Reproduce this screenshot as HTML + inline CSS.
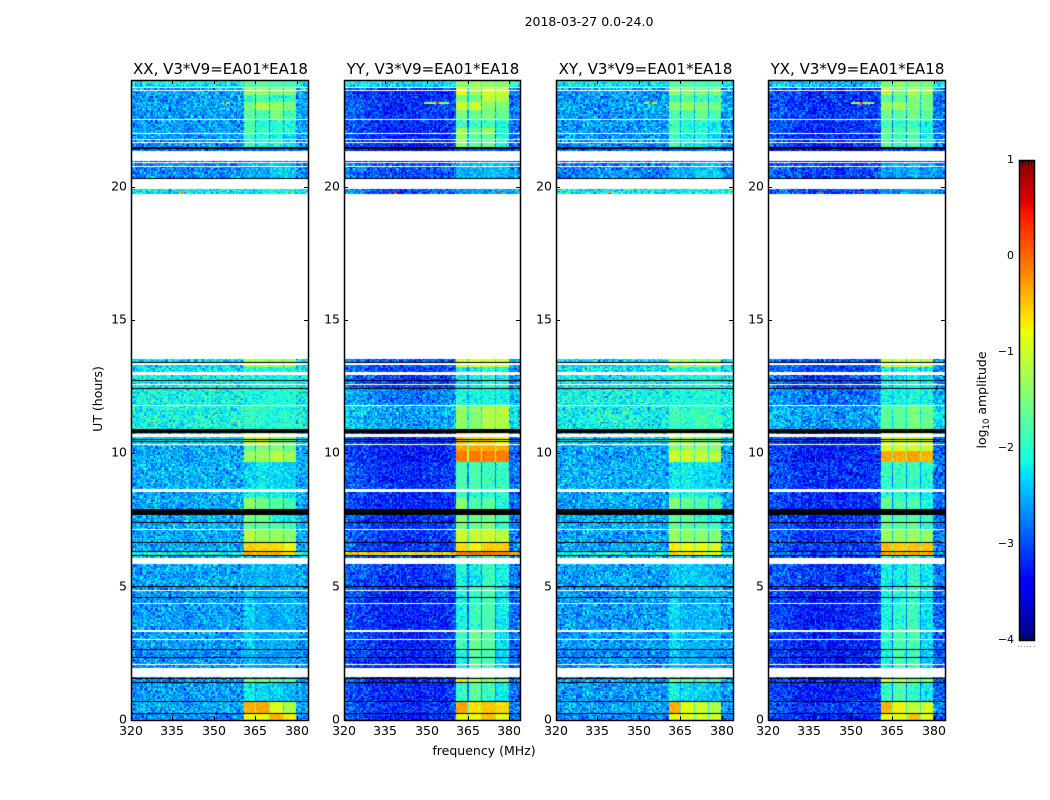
<!DOCTYPE html>
<html lang="en">
<head>
<meta charset="utf-8">
<title>2018-03-27 0.0-24.0</title>
<style>
html,body{margin:0;padding:0;background:#fff;}
#figure{position:relative;width:1050px;height:800px;overflow:hidden;background:#fff;font-family:"DejaVu Sans","Liberation Sans",sans-serif;}
canvas{position:absolute;display:block;}
svg{position:absolute;left:0;top:0;}
text{font-family:"DejaVu Sans","Liberation Sans",sans-serif;fill:#000;}
</style>
</head>
<body>
<div id="figure">
<svg id="overlay" width="1050" height="800" viewBox="0 0 1050 800">
  <text x="589" y="26" font-size="12.5" text-anchor="middle">2018-03-27 0.0-24.0</text>
  <text x="484" y="755" font-size="12.5" text-anchor="middle">frequency (MHz)</text>
  <text transform="translate(102,399) rotate(-90)" font-size="12.5" text-anchor="middle">UT (hours)</text>
  <text transform="translate(986,400) rotate(-90)" font-size="12.5" text-anchor="middle">log<tspan font-size="8.5" dy="3">10</tspan><tspan dy="-3"> amplitude</tspan></text>
</svg>
</div>
<script>
// ---- chart data ----
const panelTitles = ["XX, V3*V9=EA01*EA18", "YY, V3*V9=EA01*EA18", "XY, V3*V9=EA01*EA18", "YX, V3*V9=EA01*EA18"];
const xTicks = [320, 335, 350, 365, 380];
const yTicks = [0, 5, 10, 15, 20];
const colorTicks = [1, 0, -1, -2, -3, -4];

// Upper edge (UT hours) of each time band used by the level tables
const bandTops = [24, 23.74, 23.44, 23.21, 22.88, 22.54, 22.2, 21.98, 21.45, 20.96, 20.33, 19.73, 13.54, 13.27, 12.45, 11.81, 10.91, 10.31, 10.09, 9.68, 8.55, 8.36, 7.92, 7.43, 7.13, 6.67, 6.34, 6.16, 5.02, 3.38, 2.63, 1.56, 1.43, 0.68, 0.23];

// Sub-band frequency limits (MHz)
const spwStart = [360.8, 365.7, 370.5, 375.6];
const spwEnd = [365, 369.9, 374.9, 379.9];

// log10 amplitude per time band: [background, sub-band 1, 2, 3, 4]
const levelsXX = [
[-2.25,-1.7,-1.7,-1.8,-1.8],[-2.7,-1.35,-1.35,-1.45,-1.45],[-2.7,-1.9,-1.8,-2.0,-2.0],[-2.65,-1.5,-1.2,-1.35,-1.5],[-2.7,-1.7,-1.8,-1.5,-1.85],[-2.7,-1.85,-2.05,-2.0,-2.1],[-2.7,-1.7,-1.9,-1.9,-2.05],
[-2.75,-1.9,-2.1,-2.1,-2.3],[-3.0,-2.9,-2.9,-2.9,-2.9],[-2.8,-2.5,-2.55,-2.35,-2.4],
[-2.3,-2.3,-2.3,-2.3,-2.3],[-2.5,-2.5,-2.5,-2.5,-2.5],[-2.4,-1.2,-1.2,-1.3,-1.3],[-2.3,-2.1,-2.1,-2.1,-2.1],
[-2.2,-2.1,-2.1,-2.15,-2.15],[-2.2,-1.9,-2.0,-2.05,-2.15],[-2.4,-1.15,-1.0,-1.4,-1.5],[-2.65,-1.7,-1.5,-1.5,-1.6],
[-2.65,-1.3,-1.3,-1.1,-1.3],[-2.6,-2.3,-2.2,-2.3,-2.35],[-2.65,-2.0,-2.1,-2.1,-2.3],[-2.65,-1.35,-1.55,-1.75,-1.9],
[-2.6,-1.5,-1.55,-2.1,-2.2],[-2.6,-1.6,-1.7,-1.8,-1.9],[-2.65,-1.15,-1.3,-1.3,-1.4],[-2.65,-0.5,-0.6,-0.6,-0.8],
[-2.2,-0.35,-0.35,-0.4,-0.6],[-2.65,-2.5,-2.45,-2.5,-2.55],[-2.7,-2.35,-2.5,-2.55,-2.5],[-2.7,-2.35,-2.55,-2.5,-2.55],
[-2.75,-2.45,-2.6,-2.6,-2.65],[-2.7,-1.4,-1.5,-1.7,-1.7],[-2.7,-2.2,-2.3,-2.35,-2.5],[-2.65,-0.35,-0.35,-0.9,-1.2],[-2.8,-0.8,-0.8,-0.4,-0.7]];
const levelsYY = [
[-2.25,-1.4,-1.3,-1.4,-1.4],[-3.1,-0.85,-1.25,-0.95,-1.0],[-3.1,-1.5,-1.6,-1.1,-1.2],[-3.1,-1.05,-1.0,-1.4,-1.5],[-3.05,-1.5,-1.6,-1.5,-1.65],[-3.1,-1.85,-1.95,-1.85,-2.1],[-3.15,-1.2,-1.6,-1.3,-2.0],
[-3.15,-1.35,-1.7,-1.6,-2.0],[-3.4,-3.0,-3.0,-3.0,-3.0],[-2.9,-2.5,-2.5,-2.4,-2.45],
[-2.9,-2.6,-2.6,-2.6,-2.6],[-2.9,-2.9,-2.9,-2.9,-2.9],[-2.9,-0.9,-0.9,-0.9,-1.0],[-3.0,-2.2,-2.2,-2.0,-2.1],
[-2.7,-2.1,-2.1,-2.1,-2.1],[-2.5,-1.35,-1.45,-1.15,-1.15],[-3.1,-0.45,-0.6,-0.6,-0.8],[-3.2,-0.35,-0.35,-0.35,-0.35],
[-3.2,-0.1,-0.1,-0.1,-0.1],[-3.1,-1.8,-1.8,-1.9,-1.9],[-3.15,-1.9,-2.0,-2.0,-2.0],[-3.15,-1.4,-1.8,-1.7,-2.0],
[-3.1,-1.4,-1.6,-1.5,-1.8],[-3.1,-1.5,-1.6,-1.5,-2.0],[-3.05,-1.0,-1.05,-1.0,-1.1],[-3.05,-0.6,-0.75,-0.55,-0.55],
[-0.65,-0.15,-0.05,-0.05,-0.1],[-3.05,-2.1,-2.2,-1.9,-2.1],[-3.15,-2.1,-1.9,-1.8,-2.2],[-3.15,-1.9,-1.6,-1.7,-2.2],
[-3.15,-2.1,-1.7,-1.8,-2.3],[-3.1,-0.6,-1.2,-1.4,-1.4],[-3.15,-1.9,-1.7,-1.9,-2.2],[-3.05,-0.3,-0.65,-0.5,-0.6],[-3.2,-0.85,-0.8,-0.45,-0.85]];
const levelsXY = [
[-2.25,-1.7,-1.7,-1.8,-1.8],[-2.7,-1.4,-1.45,-1.5,-1.5],[-2.7,-1.85,-1.75,-1.9,-1.95],[-2.65,-1.4,-1.3,-1.45,-1.55],[-2.7,-1.75,-1.8,-1.6,-1.8],[-2.7,-1.9,-2.05,-2.0,-2.15],[-2.7,-1.75,-1.95,-1.9,-2.1],
[-2.75,-1.9,-2.1,-2.1,-2.3],[-3.0,-2.9,-2.9,-2.9,-2.9],[-2.8,-2.5,-2.55,-2.35,-2.4],
[-2.3,-2.3,-2.3,-2.3,-2.3],[-2.5,-2.5,-2.5,-2.5,-2.5],[-2.4,-1.2,-1.2,-1.3,-1.3],[-2.3,-2.1,-2.1,-2.1,-2.1],
[-2.2,-2.1,-2.1,-2.15,-2.15],[-2.2,-1.85,-1.95,-1.85,-1.95],[-2.4,-1.3,-1.2,-1.4,-1.5],[-2.65,-1.4,-1.3,-1.3,-1.4],
[-2.65,-1.0,-1.0,-1.05,-1.1],[-2.6,-2.2,-2.15,-2.25,-2.3],[-2.65,-2.0,-2.1,-2.1,-2.3],[-2.65,-1.45,-1.6,-1.75,-1.9],
[-2.6,-1.6,-1.65,-1.9,-2.0],[-2.6,-1.6,-1.7,-1.8,-1.9],[-2.65,-1.3,-1.35,-1.35,-1.45],[-2.65,-0.7,-0.8,-0.85,-0.95],
[-2.2,-0.55,-0.65,-0.75,-0.85],[-2.65,-2.4,-2.35,-2.4,-2.5],[-2.7,-2.3,-2.45,-2.45,-2.45],[-2.7,-2.3,-2.45,-2.45,-2.5],
[-2.75,-2.4,-2.5,-2.55,-2.6],[-2.7,-1.5,-1.6,-1.7,-1.7],[-2.7,-2.15,-2.25,-2.3,-2.45],[-2.65,-0.35,-0.85,-1.0,-1.2],[-2.8,-0.9,-0.9,-0.95,-1.0]];
const levelsYX = [
[-2.4,-1.5,-1.4,-1.5,-1.5],[-3.1,-1.1,-1.45,-1.25,-1.3],[-3.1,-1.7,-1.7,-1.5,-1.6],[-3.1,-1.3,-1.25,-1.45,-1.55],[-3.05,-1.6,-1.7,-1.55,-1.7],[-3.1,-1.9,-2.0,-1.9,-2.1],[-3.15,-1.6,-1.8,-1.7,-2.05],
[-3.15,-1.7,-1.9,-1.8,-2.1],[-3.4,-3.1,-3.1,-3.1,-3.1],[-3.0,-2.6,-2.6,-2.5,-2.55],
[-2.95,-2.7,-2.7,-2.7,-2.7],[-2.95,-2.95,-2.95,-2.95,-2.95],[-2.9,-1.0,-1.0,-1.0,-1.1],[-3.0,-2.2,-2.2,-2.1,-2.2],
[-2.75,-2.1,-2.1,-2.1,-2.1],[-2.55,-1.7,-1.7,-1.5,-1.6],[-3.1,-0.95,-0.95,-0.95,-1.0],[-3.2,-0.95,-0.95,-0.95,-1.0],
[-3.2,-0.35,-0.35,-0.3,-0.4],[-3.1,-1.9,-1.9,-1.95,-2.0],[-3.15,-2.0,-2.05,-2.05,-2.1],[-3.15,-1.6,-1.85,-1.8,-2.05],
[-3.1,-1.6,-1.7,-1.7,-1.9],[-3.1,-1.6,-1.7,-1.6,-2.0],[-3.05,-1.3,-1.35,-1.3,-1.35],[-3.05,-0.45,-0.55,-0.5,-0.5],
[-2.9,-0.3,-0.3,-0.3,-0.35],[-3.05,-2.15,-2.2,-2.0,-2.15],[-3.2,-2.1,-2.0,-1.9,-2.25],[-3.2,-2.0,-1.8,-1.85,-2.25],
[-3.2,-2.1,-1.85,-1.9,-2.3],[-3.1,-0.9,-1.2,-1.4,-1.4],[-3.2,-1.95,-1.8,-1.95,-2.2],[-3.05,-0.4,-0.75,-1.1,-0.95],[-3.2,-0.85,-0.85,-0.5,-0.9]];

// Background offset per 4 MHz frequency bin from 320 to 384 MHz
const profileXX = [0.05,0.1,0.1,0.1,0.1,0.1,0.1,0.1,0.1,0.1,0.1,0.1,0.15,0.15,0.15,0.1];
const profileYY = [0.15,0.1,0,-0.05,-0.1,-0.1,-0.1,-0.05,-0.05,0,0.15,0.3,0.35,0.35,0.35,0.3];
const profileXY = [0.05,0.1,0.1,0.1,0.1,0.1,0.1,0.1,0.1,0.1,0.1,0.1,0.15,0.15,0.15,0.1];
const profileYX = [0.15,0.1,0,-0.05,-0.1,-0.1,-0.1,-0.05,-0.05,0,0.15,0.3,0.35,0.35,0.35,0.3];

// Flagged (blank) and zero-valued (black) time ranges: [upper hour, lower hour]
const flaggedWhite = [[23.74,23.69],[23.62,23.6],[22.55,22.51],[22.0,21.96],[21.78,21.74],[21.68,21.64],[21.34,20.96],[20.93,20.9],[20.76,20.73],[20.3,19.9],[19.73,13.54],[13.39,13.31],[13.04,12.95],[12.6,12.55],[11.82,11.8],[10.71,10.61],[10.36,10.3],[8.67,8.55],[7.15,7.12],[6.07,6.05],[6.03,5.85],[4.88,4.84],[4.38,4.35],[3.38,3.31],[3.03,3.0],[2.1,2.06],[1.94,1.6]];
const flaggedBlack = [[21.47,21.43],[20.33,20.3],[13.44,13.4],[12.75,12.72],[12.46,12.43],[10.93,10.78],[10.54,10.5],[10.47,10.44],[7.92,7.69],[7.43,7.4],[6.69,6.66],[6.35,6.32],[6.17,6.14],[5.01,4.98],[4.63,4.6],[2.67,2.64],[2.37,2.34],[1.59,1.56],[1.44,1.41],[0.73,0.7],[0.27,0.24]];

// Narrow interference: [panel index, hour, start MHz, end MHz, log10 amplitude]
const interference = [
[0,23.17,352.9,355.8,-1.6],[0,23.17,353.5,354.5,0.3],[1,23.17,349,358,-1.3],[1,23.17,353.4,354.4,0.3],
[2,23.17,352,356.5,-1.4],[2,23.17,353.8,354.8,0.2],[3,23.17,350,358.5,-1.3],[3,23.17,353.4,354.4,0.2],
[0,19.82,337.6,339.2,-0.2],[0,19.82,376.4,377.3,-0.6],[1,19.82,338.2,339.2,0.4],[1,19.82,376.3,377.3,0.2],
[2,19.82,338.5,339.5,-0.4],[3,19.82,338.6,339.6,0.2],[3,19.82,352.8,353.8,0.2]];

// Decorative grain amplitude table; the cell levels above carry the chart's values
const grain = [0.3,-0.8,0.1,0.6,-0.3,-1,0.5,0.2,-0.6,0.9,-0.1,0.4,-0.9,0.7,0,-0.4,0.8,-0.7,0.2,-0.2,1,-0.5,0.3,-1,0.6,0.1,-0.3,0.4,-0.8,0.5,-0.1,0.9,-0.6,0.2,-0.4,0.7,-0.9,0,0.3,-0.2,0.8,-0.7,0.1,0.5,-0.5,0.6,-1,0.4,-0.3,0.2,0.9,-0.6,0,0.7,-0.8,0.3,-0.1,0.5,-0.4,0.1,-0.7];

// ---- axes ----
const panelLeft = [131, 344, 556, 768];
const panelWidth = [177, 176, 177, 177];
const plotTop = 80, plotBottom = 720;
const freqMin = 320, freqMax = 384, hourMin = 0, hourMax = 24;
const colorMin = -4, colorMax = 1;
const panelLevels = [levelsXX, levelsYY, levelsXY, levelsYX];
const panelProfiles = [profileXX, profileYY, profileXY, profileYX];
const panelKeys = ["xx", "yy", "xy", "yx"];

function yOf(hour) {
  return plotBottom - (hour - hourMin) * (plotBottom - plotTop) / (hourMax - hourMin);
}
function xOf(freq, width) {
  return (freq - freqMin) * width / (freqMax - freqMin);
}
function jet(t) {
  t = Math.max(0, Math.min(1, t));
  function ramp(points) {
    for (let i = 1; i < points.length; i++) {
      if (t <= points[i][0]) {
        const a = points[i - 1], b = points[i];
        return a[1] + (b[1] - a[1]) * (t - a[0]) / (b[0] - a[0]);
      }
    }
    return points[points.length - 1][1];
  }
  const r = ramp([[0, 0], [0.35, 0], [0.66, 1], [0.89, 1], [1, 0.5]]);
  const g = ramp([[0, 0], [0.125, 0], [0.375, 1], [0.64, 1], [0.91, 0], [1, 0]]);
  const b = ramp([[0, 0.5], [0.11, 1], [0.34, 1], [0.65, 0], [1, 0]]);
  return "rgb(" + Math.round(r * 255) + "," + Math.round(g * 255) + "," + Math.round(b * 255) + ")";
}
function colorOf(value) {
  return jet((value - colorMin) / (colorMax - colorMin));
}
function bandIndex(hour) {
  let index = 0;
  for (let i = 0; i < bandTops.length; i++) {
    if (hour <= bandTops[i]) index = i;
  }
  return index;
}
function cellLevel(levels, profile, freq) {
  const base = levels[0] + profile[Math.min(profile.length - 1, Math.floor((freq - freqMin) / 4))];
  for (let s = 0; s < spwStart.length; s++) {
    if (freq >= spwStart[s] && freq <= spwEnd[s]) {
      const v = Math.max(levels[s + 1], base);
      return { value: v, amp: v < -1.8 ? 0.36 : 0.14 };
    }
  }
  for (let s = 0; s < spwStart.length - 1; s++) {
    if (freq > spwEnd[s] && freq < spwStart[s + 1]) {
      return { value: Math.max(base, Math.min(levels[s + 1], levels[s + 2]) - 0.9), amp: 0.3 };
    }
  }
  return { value: base, amp: 0.55 };
}

// ---- heatmaps ----
const figure = document.getElementById("figure");
const overlay = document.getElementById("overlay");
const freqStep = 0.5, hourStep = 0.05;

panelTitles.forEach(function (title, p) {
  const left = panelLeft[p], width = panelWidth[p], height = plotBottom - plotTop;
  const canvas = document.createElement("canvas");
  canvas.width = width;
  canvas.height = height;
  canvas.style.left = left + "px";
  canvas.style.top = plotTop + "px";
  
  
  figure.insertBefore(canvas, overlay);
  const ctx = canvas.getContext("2d");
  ctx.fillStyle = "#fff";
  ctx.fillRect(0, 0, width, height);

  const rows = Math.round((hourMax - hourMin) / hourStep);
  const cols = Math.round((freqMax - freqMin) / freqStep);
  for (let r = 0; r < rows; r++) {
    const hour = hourMin + (r + 0.5) * hourStep;
    const levels = panelLevels[p][bandIndex(hour)];
    const y0 = Math.floor(yOf(hourMin + (r + 1) * hourStep) - plotTop);
    const y1 = Math.ceil(yOf(hourMin + r * hourStep) - plotTop);
    for (let c = 0; c < cols; c++) {
      const freq = freqMin + (c + 0.5) * freqStep;
      const cell = cellLevel(levels, panelProfiles[p], freq);
      const g1 = grain[(c * c * 17 + r * r * 29 + c * r * 7 + c * 13 + r * 3 + p * 11) % grain.length];
      const g2 = grain[(c * c * c * 3 + r * r * r * 5 + c * r * 11 + p * 23) % grain.length];
      ctx.fillStyle = colorOf(cell.value + (g1 + g2) * 0.7 * cell.amp);
      const x0 = Math.floor(xOf(freqMin + c * freqStep, width));
      const x1 = Math.ceil(xOf(freqMin + (c + 1) * freqStep, width));
      ctx.fillRect(x0, y0, x1 - x0, y1 - y0);
    }
  }
  interference.forEach(function (item) {
    if (item[0] !== p) return;
    ctx.fillStyle = colorOf(item[4]);
    const x0 = Math.round(xOf(item[2], width));
    ctx.fillRect(x0, Math.round(yOf(item[1]) - plotTop), Math.max(2, Math.round(xOf(item[3], width)) - x0), 2);
  });
  ctx.fillStyle = "#fff";
  flaggedWhite.forEach(function (range) {
    const y0 = Math.round(yOf(range[0]) - plotTop);
    ctx.fillRect(0, y0, width, Math.max(1, Math.round(yOf(range[1]) - plotTop) - y0));
  });
  ctx.fillStyle = "#000";
  flaggedBlack.forEach(function (range) {
    const y0 = Math.round(yOf(range[0]) - plotTop);
    ctx.fillRect(0, y0, width, Math.max(1, Math.round(yOf(range[1]) - plotTop) - y0));
  });
});

// ---- SVG helpers and axes ----
function svgEl(tag, parent) {
  const el = document.createElementNS("http://www.w3.org/2000/svg", tag);
  parent.appendChild(el);
  return el;
}
function tickLine(parent, x1, y1, x2, y2) {
  const line = svgEl("line", parent);
  line.setAttribute("x1", x1);
  line.setAttribute("y1", y1);
  line.setAttribute("x2", x2);
  line.setAttribute("y2", y2);
  line.setAttribute("stroke", "#000");
  line.setAttribute("stroke-width", "1");
  
  
}
function label(parent, x, y, content, anchor, size) {
  const t = svgEl("text", parent);
  t.setAttribute("x", x);
  t.setAttribute("y", y);
  t.setAttribute("text-anchor", anchor);
  t.setAttribute("font-size", size);
  t.textContent = content;
  return t;
}

panelTitles.forEach(function (title, p) {
  const left = panelLeft[p], width = panelWidth[p];
  const group = svgEl("g", overlay);
  
  

  const frame = svgEl("rect", group);
  frame.setAttribute("x", left + 0.5);
  frame.setAttribute("y", plotTop + 0.5);
  frame.setAttribute("width", width);
  frame.setAttribute("height", plotBottom - plotTop);
  frame.setAttribute("fill", "none");
  frame.setAttribute("stroke", "#000");
  frame.setAttribute("stroke-width", "1.5");
  
  

  const heading = label(group, left + width / 2 + 1, 74, title, "middle", 15);
  
  

  xTicks.forEach(function (tick) {
    const x = Math.round(left + xOf(tick, width)) + 0.5;
    tickLine(group, x, plotBottom, x, plotBottom - 4);
    tickLine(group, x, plotTop, x, plotTop + 4);
    const text = label(group, x - 0.5, 735, String(tick), "middle", 12.5);
    
    
  });
  yTicks.forEach(function (tick) {
    const y = Math.round(yOf(tick)) + 0.5;
    tickLine(group, left, y, left + 4, y);
    tickLine(group, left + width, y, left + width - 4, y);
    const text = label(group, left - 4, y + 3, String(tick), "end", 12.5);
    
    
  });
});

// ---- colorbar ----
const barLeft = 1019, barWidth = 16, barTop = 160, barBottom = 640;
function barY(value) {
  return barBottom - (value - colorMin) * (barBottom - barTop) / (colorMax - colorMin);
}
const barCanvas = document.createElement("canvas");
barCanvas.width = barWidth;
barCanvas.height = barBottom - barTop;
barCanvas.style.left = barLeft + "px";
barCanvas.style.top = barTop + "px";


figure.insertBefore(barCanvas, overlay);
const barCtx = barCanvas.getContext("2d");
for (let y = 0; y < barBottom - barTop; y++) {
  barCtx.fillStyle = jet(1 - (y + 0.5) / (barBottom - barTop));
  barCtx.fillRect(0, y, barWidth, 1);
}
const barGroup = svgEl("g", overlay);


const barFrame = svgEl("rect", barGroup);
barFrame.setAttribute("x", barLeft + 0.5);
barFrame.setAttribute("y", barTop + 0.5);
barFrame.setAttribute("width", barWidth - 1);
barFrame.setAttribute("height", barBottom - barTop);
barFrame.setAttribute("fill", "none");
barFrame.setAttribute("stroke", "#000");
barFrame.setAttribute("stroke-width", "1.5");


colorTicks.forEach(function (tick) {
  const text = label(barGroup, 1014, barY(tick) + 3, String(tick).replace("-", "\u2212"), "end", 11);
  
  
});
[1022, 1025, 1028, 1031].forEach(function (x) {
  tickLine(barGroup, x + 0.5, barTop, x + 0.5, barTop + 5);
  tickLine(barGroup, x + 0.5, barBottom, x + 0.5, barBottom - 5);
});
[1018, 1021, 1024, 1027, 1030, 1034].forEach(function (x) {
  const dot = svgEl("rect", barGroup);
  dot.setAttribute("x", x);
  dot.setAttribute("y", 646);
  dot.setAttribute("width", 1);
  dot.setAttribute("height", 1);
  dot.setAttribute("fill", "#999");
  
  
});
</script>
</body>
</html>
